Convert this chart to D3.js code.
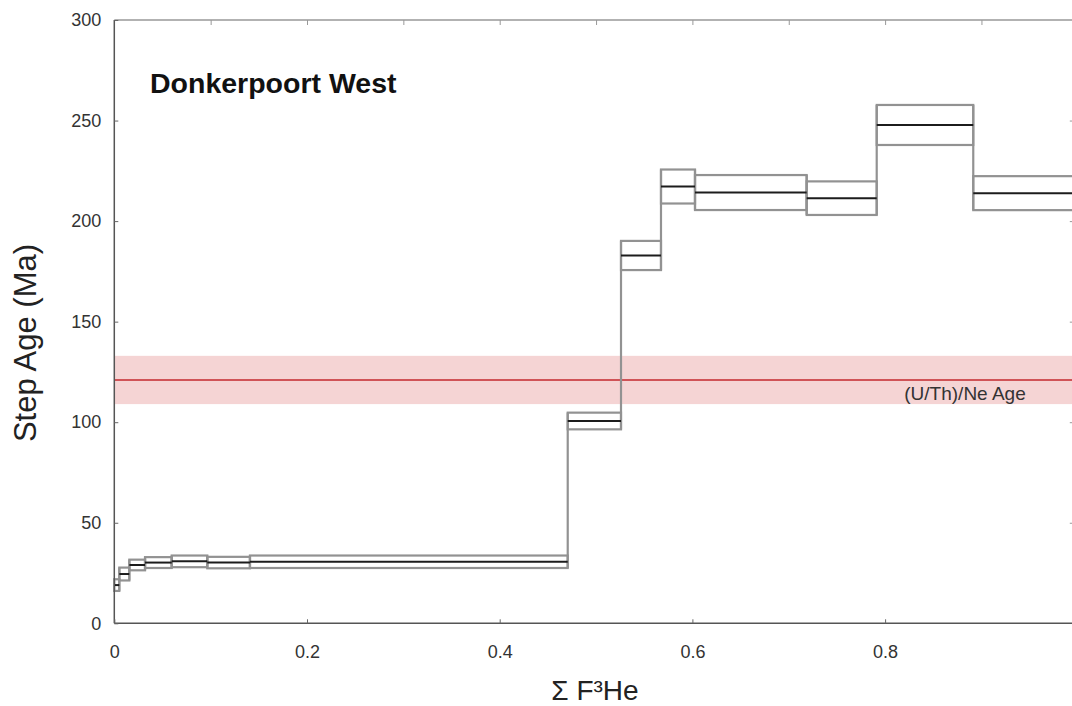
<!DOCTYPE html>
<html>
<head>
<meta charset="utf-8">
<script src="https://cdn.jsdelivr.net/npm/d3@7"></script>
<style>
  html, body { margin: 0; padding: 0; background: #fff; }
  svg { display: block; font-family: "Liberation Sans", Arial, Helvetica, sans-serif; }
</style>
</head>
<body>
<svg id="chart" width="1072" height="706"></svg>
<script>
// Step-heating release steps: cumulative 3He fraction boundaries
const stepEdges = [0, 0.0052, 0.0156, 0.0319, 0.0596, 0.0965, 0.1408, 0.4706,
                   0.5259, 0.5674, 0.6027, 0.7186, 0.7913, 0.8915, 1.0];
// Step ages (Ma) and their 1-sigma uncertainties
const stepAges = [19.0, 24.5, 29.0, 30.2, 30.8, 30.2, 30.6, 100.6,
                  182.9, 217.2, 214.2, 211.4, 247.8, 213.9];
const stepErrors = [2.9, 3.2, 2.65, 2.7, 2.9, 2.85, 3.1, 4.15,
                    7.25, 8.45, 8.7, 8.35, 9.95, 8.45];
// Bulk (U/Th)/Ne age and uncertainty
const neAge = 121;
const neError = 12;
const neLabel = "(U/Th)/Ne Age";
const xTicks = [0, 0.2, 0.4, 0.6, 0.8, 1];
const xTickLabels = ["0", "0.2", "0.4", "0.6", "0.8", "1"];
const xMinorTicks = [0.1, 0.2, 0.3, 0.4, 0.5, 0.6, 0.7, 0.8, 0.9];
const yTicks = [0, 50, 100, 150, 200, 250, 300];
const sampleName = "Donkerpoort West";

const svg = d3.select("#chart");
const x = d3.scaleLinear().domain([0, 1]).range([114.3, 1077.8]);
const y = d3.scaleLinear().domain([0, 300]).range([623.3, 20]);

const steps = stepAges.map((a, i) => ({
  x0: stepEdges[i], x1: stepEdges[i + 1],
  age: a, lo: a - stepErrors[i], hi: a + stepErrors[i]
}));

// (U/Th)/Ne reference band
svg.append("rect")
  .attr("x", x(0)).attr("width", x(1) - x(0))
  .attr("y", y(neAge + neError)).attr("height", y(neAge - neError) - y(neAge + neError))
  .attr("fill", "#f5d4d4");
svg.append("line")
  .attr("x1", x(0)).attr("x2", x(1))
  .attr("y1", y(neAge)).attr("y2", y(neAge))
  .attr("stroke", "#c3282e").attr("stroke-width", 1.6);
svg.append("text")
  .attr("x", 965).attr("y", 400)
  .attr("text-anchor", "middle")
  .attr("font-size", 19).attr("fill", "#333")
  .text(neLabel);

// Uncertainty envelopes for each step
const boxes = svg.append("g");
boxes.selectAll("rect").data(steps).join("rect")
  .attr("x", d => x(d.x0)).attr("width", d => x(d.x1) - x(d.x0))
  .attr("y", d => y(d.hi)).attr("height", d => y(d.lo) - y(d.hi))
  .attr("fill", "none").attr("stroke", "#929292").attr("stroke-width", 2.2);

// Vertical connectors between successive steps
const joins = steps.slice(0, -1).map((d, i) => {
  const n = steps[i + 1];
  return { xv: d.x1, lo: Math.min(d.lo, n.lo), hi: Math.max(d.hi, n.hi) };
});
boxes.selectAll("line").data(joins).join("line")
  .attr("x1", d => x(d.xv)).attr("x2", d => x(d.xv))
  .attr("y1", d => y(d.hi)).attr("y2", d => y(d.lo))
  .attr("stroke", "#929292").attr("stroke-width", 2.2);

// Step ages
svg.append("g").selectAll("line").data(steps).join("line")
  .attr("x1", d => x(d.x0)).attr("x2", d => x(d.x1))
  .attr("y1", d => y(d.age)).attr("y2", d => y(d.age))
  .attr("stroke", "#1c1c1c").attr("stroke-width", 2);

// Frame and ticks
const frame = svg.append("g");
frame.append("line").attr("x1", x(0)).attr("x2", x(1)).attr("y1", y(300)).attr("y2", y(300))
  .attr("stroke", "#999").attr("stroke-width", 1.5);
frame.append("line").attr("x1", x(0)).attr("x2", x(1)).attr("y1", y(0)).attr("y2", y(0))
  .attr("stroke", "#555").attr("stroke-width", 1.5);
frame.append("line").attr("x1", x(0)).attr("x2", x(0)).attr("y1", y(0)).attr("y2", y(300))
  .attr("stroke", "#555").attr("stroke-width", 1.5);

const xAxis = d3.axisBottom(x).tickValues(xTicks)
  .tickFormat((d, i) => xTickLabels[i]).tickSizeInner(-4).tickSizeOuter(0).tickPadding(22);
const gx = svg.append("g").attr("transform", `translate(0,${y(0)})`).call(xAxis);
gx.select(".domain").remove();
gx.selectAll(".tick line").attr("stroke", "#666");
gx.selectAll(".tick text").attr("font-size", 18).attr("fill", "#333")
  .attr("font-family", "Liberation Sans, Arial, sans-serif").attr("dy", "0.71em");

const xTop = d3.axisTop(x).tickValues(xMinorTicks).tickSizeInner(-5).tickSizeOuter(0).tickFormat("");
const gt = svg.append("g").attr("transform", `translate(0,${y(300)})`).call(xTop);
gt.select(".domain").remove();
gt.selectAll(".tick line").attr("stroke", "#999");

const yAxis = d3.axisLeft(y).tickValues(yTicks).tickSizeInner(-4).tickSizeOuter(0).tickPadding(13);
const gy = svg.append("g").attr("transform", `translate(${x(0)},0)`).call(yAxis);
gy.select(".domain").remove();
gy.selectAll(".tick line").attr("stroke", "#666");
gy.selectAll(".tick text").attr("font-size", 18).attr("fill", "#333")
  .attr("font-family", "Liberation Sans, Arial, sans-serif");

const yRight = d3.axisRight(y).tickValues(yTicks.slice(1, -1)).tickSizeInner(-8).tickSizeOuter(0).tickFormat("");
const gr = svg.append("g").attr("transform", `translate(${x(1)},0)`).call(yRight);
gr.select(".domain").remove();
gr.selectAll(".tick line").attr("stroke", "#999");

// Titles
svg.append("text")
  .attr("x", 150).attr("y", 93)
  .attr("font-size", 28.5).attr("font-weight", "bold").attr("fill", "#111")
  .text(sampleName);

svg.append("text")
  .attr("x", 595).attr("y", 700)
  .attr("text-anchor", "middle")
  .attr("font-size", 28).attr("fill", "#222")
  .text("Σ F³He");

svg.append("text")
  .attr("transform", "translate(36,343) rotate(-90)")
  .attr("text-anchor", "middle")
  .attr("font-size", 31).attr("fill", "#222")
  .text("Step Age (Ma)");
</script>
</body>
</html>
